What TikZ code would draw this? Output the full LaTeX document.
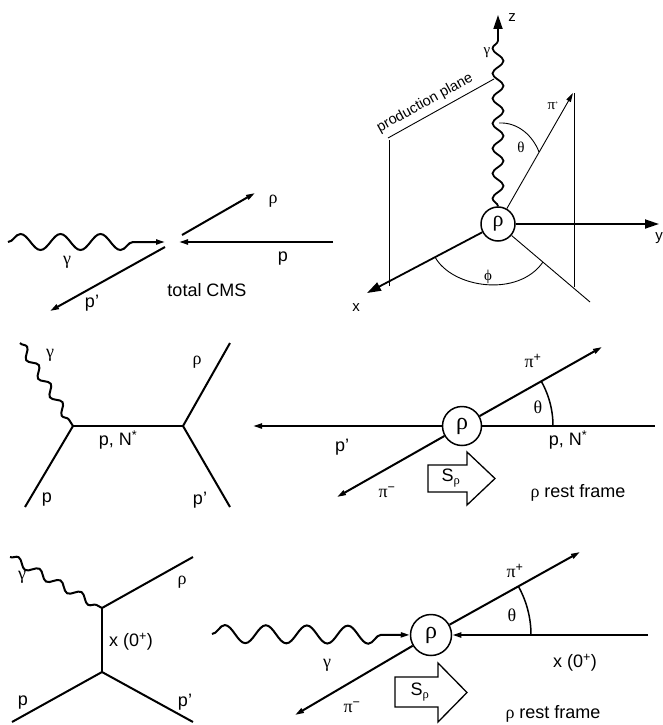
\documentclass[tikz,border=0pt]{standalone}
\usepackage{fontspec}
\setmainfont{Liberation Sans}
\newfontfamily\grfont{Liberation Serif}
\newcommand\grk[1]{{\grfont #1}}
\usetikzlibrary{arrows.meta,decorations.pathmorphing}
\begin{document}
\begin{tikzpicture}[x=1pt,y=-1pt,
  thickln/.style={line width=2pt},
  thinln/.style={line width=0.9pt},
  tip/.style={-{Triangle[length=9pt,width=5pt]}},
  bigtip/.style={-{Triangle[length=14pt,width=9pt]}},
  lbl/.style={font=\fontsize{18}{21}\selectfont, inner sep=0pt},
  slbl/.style={font=\fontsize{15}{18}\selectfont, inner sep=0pt},
  rhoc/.style={circle, draw, line width=1.5pt, inner sep=0pt, font=\fontsize{24}{26}\selectfont},
  srho/.style={line width=1.3pt, fill=white},
]
\useasboundingbox (0,0) rectangle (662,725);

% ---------------- top-left: total CMS
\coordinate (a0) at (8,242);
\coordinate (av) at (165,242);
\coordinate (ar1) at (182,235);
\coordinate (ar2) at (255,193);
\coordinate (ap1) at (333,242);
\coordinate (ap2) at (179,242);
\coordinate (aq1) at (165,247);
\coordinate (aq2) at (50,311);
\draw[thickln, tip, decorate, decoration={snake, amplitude=8pt, segment length=40pt, post length=15pt}] (a0) -- (av);
\draw[thickln, tip] (ar1) -- (ar2);
\draw[thickln, tip] (ap1) -- (ap2);
\draw[thickln, tip] (aq1) -- (aq2);
\node[lbl] (alr) at (273,201) {\grk{ρ}};
\node[lbl] (alp) at (283,259) {p};
\node[lbl] (alg) at (67,262) {\grk{γ}};
\node[lbl] (alq) at (92,303) {p'};
\node[lbl] (alt) at (207,290) {total CMS};

% ---------------- top-right: angles
\node[rhoc, minimum size=34pt, font=\fontsize{22}{24}\selectfont] (r1) at (498,224) {\grk{ρ}};
\coordinate (bz) at (498,15);
\coordinate (bx) at (367,293);
\coordinate (by) at (659,224);
\coordinate (bpi) at (573,93);
\coordinate (blr) at (590,302);
\draw[line width=1.8pt, bigtip, decorate, decoration={snake, amplitude=5.5pt, segment length=25pt, post length=17pt}] (r1) -- (bz);
\draw[line width=1.8pt, bigtip] (r1) -- (bx);
\draw[line width=1.8pt, bigtip] (r1) -- (by);
\draw[thinln, tip] (r1) -- (bpi);
\draw[thinln] (r1) -- (blr);
\coordinate (bpl1) at (388,138);
\coordinate (bpl2) at (494,79);
\draw[thinln] (bpl1) -- (bpl2);
\coordinate (bl1) at (389,140);
\coordinate (bl2) at (389,286);
\draw[thinln] (bl1) -- (bl2);
\coordinate (bq1) at (574,93);
\coordinate (bq2) at (574,287);
\draw[thinln] (bq1) -- (bq2);
\draw[thinln] (499,123) .. controls (518,122) and (533,136) .. (539,152);
\draw[thinln] (435,257) .. controls (452,288) and (518,298) .. (543,262);
\node[font=\fontsize{14.5}{16}\selectfont, inner sep=0pt, rotate=28.8] (bplane) at (425,103) {production plane};
\node[slbl] (blz) at (512,18) {z};
\node[slbl] (blg) at (487,53) {\grk{γ}};
\node[slbl] (blx) at (356,308) {x};
\node[slbl] (bly) at (659,238) {y};
\node[slbl] (blpi) at (553,106) {\grk{π}\textsuperscript{\tiny +}};
\node[slbl] (blth) at (521,147) {\grk{θ}};
\node[slbl] (blph) at (488,277) {\grk{ϕ}};

% ---------------- middle-left: s-channel
\coordinate (c1) at (73,426);
\coordinate (c2) at (183,426);
\coordinate (cg) at (20,343);
\coordinate (cp) at (25,507);
\coordinate (cr) at (230,343);
\coordinate (cq) at (230,507);
\draw[line width=2.3pt] (c1) -- (c2);
\draw[line width=2pt, decorate, decoration={snake, amplitude=4pt, segment length=22pt}] (cg) -- (c1);
\draw[line width=2pt] (cp) -- (c1);
\draw[line width=2pt] (c2) -- (cr);
\draw[line width=2pt] (c2) -- (cq);
\node[lbl] (clg) at (50,355) {\grk{γ}};
\node[lbl] (clx) at (118,440) {p, N\textsuperscript{*}};
\node[lbl] (clp) at (47,500) {p};
\node[lbl] (clr) at (197,362) {\grk{ρ}};
\node[lbl] (clq) at (200,500) {p'};

% ---------------- middle-right: rho rest frame (s-channel)
\node[rhoc, minimum size=39pt] (r2) at (462,426) {\grk{ρ}};
\coordinate (dq) at (253,426);
\coordinate (dn) at (655,426);
\coordinate (dpp) at (602,347);
\coordinate (dpm) at (337,497);
\draw[thickln, tip] (r2) -- (dq);
\draw[thickln] (r2) -- (dn);
\draw[thickln, tip] (r2) -- (dpp);
\draw[thickln, tip] (r2) -- (dpm);
\draw[line width=1.5pt] plot[domain=0:29.4, samples=30] ({462+91*cos(\x)}, {426-91*sin(\x)});
\draw[srho] (428,465) -- (467,465) -- (467,452) -- (495,478.5) -- (467,505) -- (467,492) -- (428,492) -- cycle;
\node[lbl] (dls) at (451,478) {S\textsubscript{\grk{ρ}}};
\node[lbl] (dlq) at (342,447) {p'};
\node[lbl] (dln) at (568,440) {p, N\textsuperscript{*}};
\node[lbl] (dlpp) at (533,361) {\grk{π}\textsuperscript{+}};
\node[lbl] (dlpm) at (387,492) {\grk{π}\textsuperscript{−}};
\node[lbl] (dlth) at (538,407) {\grk{θ}};
\node[lbl] (dlr) at (578,493) {\grk{ρ} rest frame};

% ---------------- bottom-left: t-channel
\coordinate (e1) at (102,608);
\coordinate (e2) at (102,672);
\coordinate (eg) at (10,557);
\coordinate (er) at (193,557);
\coordinate (ep) at (12,722);
\coordinate (eq) at (193,722);
\draw[line width=2pt] (e1) -- (e2);
\draw[line width=2pt, decorate, decoration={snake, amplitude=4pt, segment length=24pt}] (eg) -- (e1);
\draw[line width=2pt] (e1) -- (er);
\draw[line width=2pt] (ep) -- (e2);
\draw[line width=2pt] (e2) -- (eq);
\node[lbl] (elg) at (22,577) {\grk{γ}};
\node[lbl] (elr) at (182,582) {\grk{ρ}};
\node[lbl] (elx) at (131,642) {x (0\textsuperscript{+})};
\node[lbl] (elp) at (23,703) {p};
\node[lbl] (elq) at (185,702) {p'};

% ---------------- bottom-right: rho rest frame (t-channel)
\node[rhoc, minimum size=41pt] (r3) at (431,635) {\grk{ρ}};
\coordinate (fg) at (212,634);
\coordinate (fx) at (648,635);
\coordinate (fpp) at (580,552);
\coordinate (fpm) at (295,715);
\draw[thickln, tip, decorate, decoration={snake, amplitude=9pt, segment length=41pt, post length=22pt}] (fg) -- (r3);
\draw[thickln, tip] (fx) -- (r3);
\draw[thickln, tip] (r3) -- (fpp);
\draw[thickln, tip] (r3) -- (fpm);
\draw[line width=1.5pt] plot[domain=0:29.1, samples=30] ({431+100*cos(\x)}, {635-100*sin(\x)});
\draw[srho] (395,677) -- (438,677) -- (438,663) -- (467,692.5) -- (438,722) -- (438,707) -- (395,707) -- cycle;
\node[lbl] (fls) at (420,692) {S\textsubscript{\grk{ρ}}};
\node[lbl] (flg) at (327,665) {\grk{γ}};
\node[lbl] (flx) at (575,663) {x (0\textsuperscript{+})};
\node[lbl] (flpp) at (515,571) {\grk{π}\textsuperscript{+}};
\node[lbl] (flpm) at (352,707) {\grk{π}\textsuperscript{−}};
\node[lbl] (flth) at (512,615) {\grk{θ}};
\node[lbl] (flr) at (553,714) {\grk{ρ} rest frame};
\end{tikzpicture}
\end{document}
